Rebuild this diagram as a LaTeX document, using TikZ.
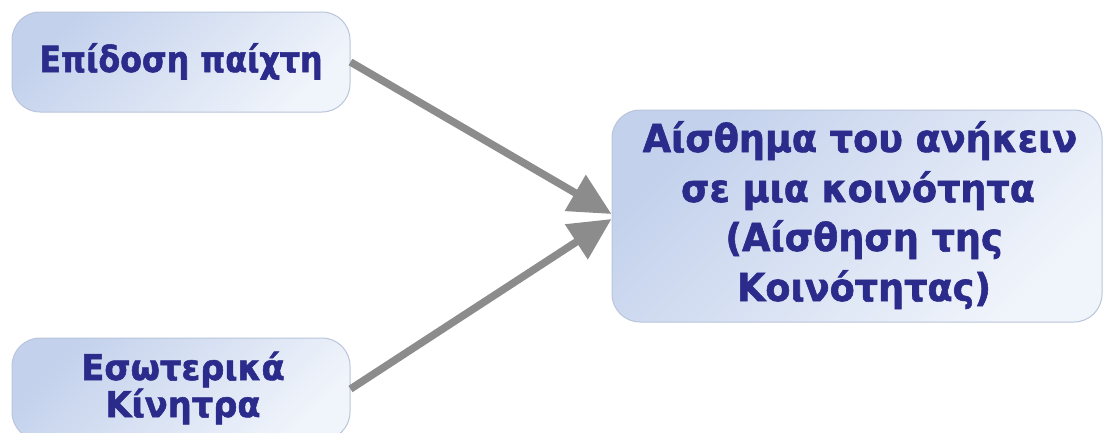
\documentclass[tikz,border=0pt]{standalone}
\usepackage{fontspec}
\setmainfont{DejaVu Sans}
\newfontfamily\fa{DejaVu Sans}[FakeStretch=0.88, FakeBold=1.5]
\newfontfamily\fb{DejaVu Sans}[FakeStretch=0.95, FakeBold=1.5]
\usetikzlibrary{arrows.meta}
\definecolor{txt}{HTML}{2A2B8A}
\definecolor{boxA}{HTML}{C3D1EC}
\definecolor{boxB}{HTML}{F0F4FB}
\definecolor{bord}{HTML}{B9C5DA}
\definecolor{arr}{HTML}{8C8C8C}
\begin{document}
\begin{tikzpicture}[x=1pt,y=-1pt,
  box/.style={draw=bord, line width=1pt, rounded corners=28pt,
    top color=boxA, bottom color=boxB, shading angle=45, inner sep=0pt},
  lbl/.style={text=txt, inner sep=0pt, anchor=base},
  conn/.style={draw=arr, line width=7.5pt, -{Triangle[length=42pt,width=40pt]}}]
\useasboundingbox (0,0) rectangle (1108,432);
\clip (0,0) rectangle (1108,432);
% boxes
\node[box, minimum width=338pt, minimum height=100pt] (b1) at (181,62) {};
\node[box, minimum width=338pt, minimum height=102pt] (b2) at (181,389) {};
\node[box, minimum width=490pt, minimum height=212pt] (b3) at (857,216) {};
% texts
\node[lbl, font=\fa\bfseries\fontsize{36}{40}\selectfont] (t1) at (181,72) {Επίδοση παίχτη};
\node[lbl, font=\fb\bfseries\fontsize{35.5}{37}\selectfont] (t2a) at (183,380) {Εσωτερικά};
\node[lbl, font=\fb\bfseries\fontsize{35.5}{37}\selectfont] (t2b) at (183,417) {Κίνητρα};
\node[lbl, font=\fb\bfseries\fontsize{38.5}{50}\selectfont] (t3a) at (860,152) {Αίσθημα του ανήκειν};
\node[lbl, font=\fb\bfseries\fontsize{38.5}{50}\selectfont] (t3b) at (858,202) {σε μια κοινότητα};
\node[lbl, font=\fb\bfseries\fontsize{38.5}{50}\selectfont] (t3c) at (864,251) {(Αίσθηση της};
\node[lbl, font=\fb\bfseries\fontsize{38.5}{50}\selectfont] (t3d) at (864,301) {Κοινότητας)};
% connectors
\draw[conn] (b1.east) -- ([yshift=2pt]b3.west);
\draw[conn] (b2.east) -- ([yshift=-3pt]b3.west);
\end{tikzpicture}
\end{document}
